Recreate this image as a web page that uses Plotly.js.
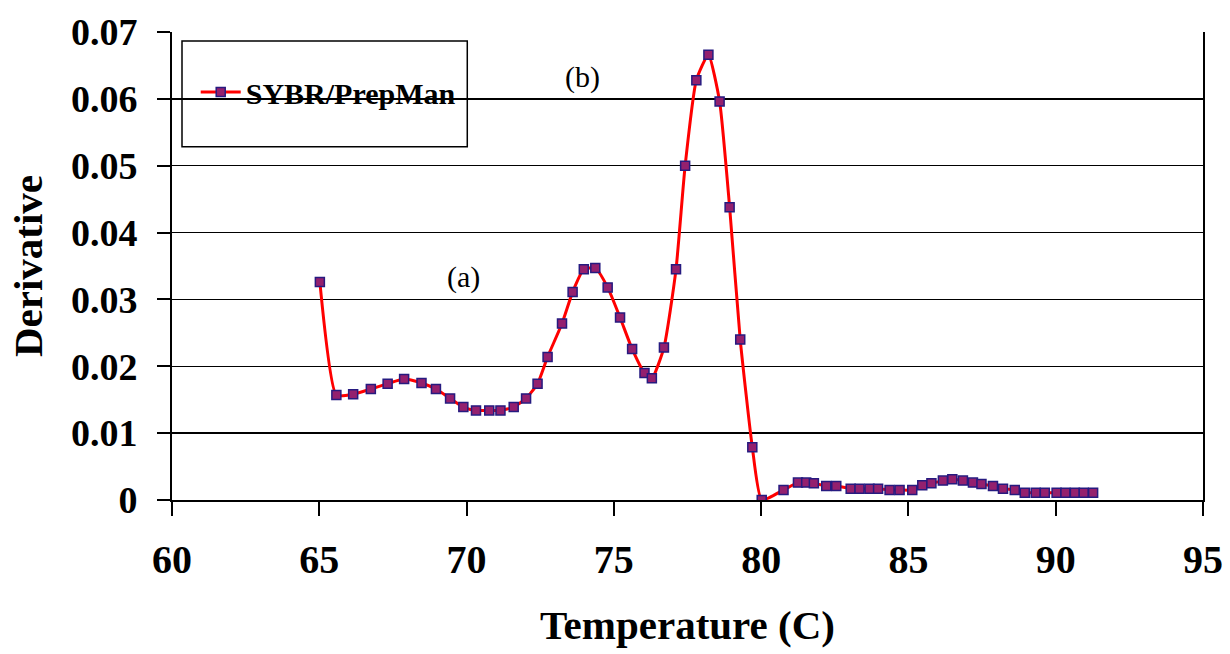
<!DOCTYPE html>
<html>
<head>
<meta charset="utf-8">
<script src="https://cdn.plot.ly/plotly-3.0.1.min.js"></script>
<style>html,body{margin:0;padding:0;background:#fff;}#chart{width:1230px;height:654px;}</style>
</head>
<body>
<div id="chart"></div>
<script>
const seriesName = "SYBR/PrepMan";
const temperature = [
  65.02, 65.58, 66.15, 66.75, 67.32, 67.88, 68.47, 68.96, 69.44, 69.89,
  70.32, 70.77, 71.15, 71.60, 72.02, 72.41, 72.75, 73.24, 73.60, 73.98,
  74.37, 74.79, 75.21, 75.62, 76.04, 76.29, 76.70, 77.11, 77.42, 77.80,
  78.21, 78.59, 78.93, 79.29, 79.70, 80.02,
  80.76, 81.25, 81.53, 81.79, 82.21, 82.55, 83.04, 83.34, 83.68, 83.97,
  84.36, 84.70, 85.13, 85.47, 85.78, 86.17, 86.49, 86.85, 87.19, 87.48,
  87.87, 88.21, 88.61, 88.95, 89.32, 89.63, 90.03, 90.33, 90.65, 90.95, 91.27
];
const derivative = [
  0.0326, 0.0157, 0.0158, 0.0166, 0.0174, 0.0181, 0.0175, 0.0166, 0.0152, 0.0139,
  0.0134, 0.0134, 0.0134, 0.0139, 0.0152, 0.0174, 0.0214, 0.0264, 0.0311, 0.0345,
  0.0347, 0.0318, 0.0273, 0.0226, 0.0190, 0.0182, 0.0228, 0.0345, 0.0500, 0.0628,
  0.0666, 0.0596, 0.0438, 0.0240, 0.0079, 0.0000,
  0.0015, 0.0026, 0.0026, 0.0025, 0.0021, 0.0021, 0.0017, 0.0017, 0.0017, 0.0017,
  0.0015, 0.0015, 0.0015, 0.0022, 0.0025, 0.0029, 0.0031, 0.0029, 0.0026, 0.0024,
  0.0021, 0.0017, 0.0015, 0.0011, 0.0011, 0.0011, 0.0011, 0.0011, 0.0011, 0.0011, 0.0011
];
const xTickVals = [60, 65, 70, 75, 80, 85, 90, 95];
const yTickVals = [0, 0.01, 0.02, 0.03, 0.04, 0.05, 0.06, 0.07];
const yTickText = ["0", "0.01", "0.02", "0.03", "0.04", "0.05", "0.06", "0.07"];
const xTitle = "Temperature (C)";
const yTitle = "Derivative";
const labelTexts = ["(a)", "(b)"];
const labelX = [69.9, 73.95];
const labelY = [0.0333, 0.0632];

const serif = '"Liberation Serif", "Times New Roman", serif';

const trace = {
  x: temperature, y: derivative, name: seriesName,
  type: 'scatter', mode: 'lines+markers',
  line: {color: '#ff0000', width: 3, shape: 'spline', smoothing: 0.5},
  marker: {symbol: 'square', size: 9, color: '#94206e', line: {color: '#261a80', width: 1.5}},
  showlegend: true
};

const layout = {
  width: 1230, height: 654,
  margin: {l: 172, r: 27, t: 32, b: 154},
  paper_bgcolor: '#ffffff', plot_bgcolor: '#ffffff',
  showlegend: true,
  legend: {
    x: 0.023, xanchor: 'left', y: 0.872, yanchor: 'middle',
    bgcolor: 'rgba(0,0,0,0)', borderwidth: 0,
    font: {family: serif, size: 30, color: '#000', weight: 700},
    itemwidth: 40
  },
  xaxis: {
    range: [60, 95], tickvals: xTickVals,
    showgrid: false, zeroline: false,
    showline: true, linecolor: '#000', linewidth: 2,
    ticks: 'outside', ticklen: 14, tickwidth: 2, tickcolor: '#000',
    ticklabelstandoff: 9,
    tickfont: {family: serif, size: 40, color: '#000', weight: 700},
    title: {text: xTitle, standoff: 29, font: {family: serif, size: 41, color: '#000', weight: 700}}
  },
  yaxis: {
    range: [0, 0.07], tickvals: yTickVals, ticktext: yTickText,
    showgrid: true, gridcolor: '#000', gridwidth: 1.5,
    zeroline: false,
    showline: true, linecolor: '#000', linewidth: 2, mirror: true,
    ticks: 'outside', ticklen: 13, tickwidth: 2, tickcolor: '#000',
    ticklabelstandoff: 12,
    tickfont: {family: serif, size: 38, color: '#000', weight: 700},
    title: {text: yTitle, standoff: 16, font: {family: serif, size: 41, color: '#000', weight: 700}}
  },
  shapes: [{
    type: 'rect', xref: 'paper', yref: 'paper',
    x0: 0.0097, x1: 0.2864, y0: 0.755, y1: 0.981,
    line: {color: '#000', width: 1.5}, fillcolor: 'rgba(0,0,0,0)'
  }],
  annotations: labelTexts.map((t, i) => ({
    x: labelX[i], y: labelY[i], xref: 'x', yref: 'y', text: t, showarrow: false,
    font: {family: serif, size: 30, color: '#000'}
  }))
};

Plotly.newPlot('chart', [trace], layout, {displayModeBar: false, staticPlot: true});
</script>
</body>
</html>
